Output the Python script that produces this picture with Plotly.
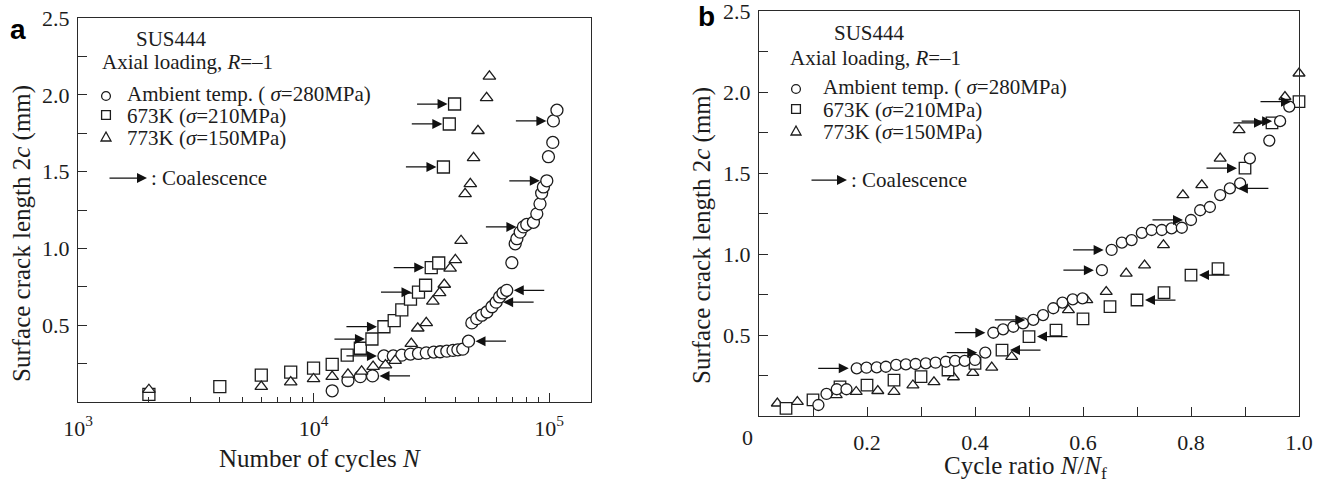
import numpy as np
import plotly.graph_objects as go

W, H = 1329, 489

# ---------------- Panel a: crack length vs. number of cycles ----------------
cycles_amb = [12000, 14000, 15800, 17800, 19900, 21800, 23700, 25800, 27900, 30100,
              32400, 34500, 36800, 39100, 41000, 43000, 45500, 47000, 49300, 51800,
              54500, 57200, 59600, 61600, 63700, 66100, 69500, 71800, 73000, 75400,
              77800, 80400, 85800, 88700, 91500, 93000, 94600, 97800, 99400, 103700,
              104300, 108000]
crack_amb = [0.073, 0.14, 0.165, 0.17, 0.30, 0.30, 0.305, 0.312, 0.316, 0.32,
             0.325, 0.327, 0.331, 0.336, 0.34, 0.344, 0.396, 0.515, 0.543, 0.565,
             0.586, 0.62, 0.65, 0.684, 0.71, 0.727, 0.907, 1.03, 1.063, 1.106,
             1.14, 1.156, 1.17, 1.225, 1.29, 1.36, 1.40, 1.44, 1.597, 1.69,
             1.83, 1.90]

cycles_673 = [2000, 4000, 6000, 8000, 10000, 12000, 13900, 15800, 17700, 19900,
              22000, 23700, 25800, 27900, 29900, 31600, 34000, 35600, 37700, 39700]
crack_673 = [0.05, 0.10, 0.175, 0.195, 0.22, 0.245, 0.305, 0.35, 0.41, 0.49,
             0.53, 0.60, 0.67, 0.715, 0.76, 0.875, 0.905, 1.53, 1.81, 1.94]

cycles_773 = [2000, 6000, 8000, 10000, 12000, 14000, 16000, 17900, 20200, 22200,
              26000, 27700, 30100, 32100, 34300, 35900, 38000, 40000, 42300, 44000,
              46300, 47800, 49900, 54300, 55800]
crack_773 = [0.08, 0.10, 0.13, 0.15, 0.165, 0.18, 0.20, 0.23, 0.24, 0.27,
             0.38, 0.48, 0.515, 0.655, 0.71, 0.765, 0.87, 0.925, 1.05, 1.355,
             1.42, 1.59, 1.766, 1.98, 2.12]

# coalescence events: (point index, arrow direction  +1 = pointing right, -1 = pointing left)
coal_amb_a = [(3, -1), (4, 1), (16, -1), (22, -1), (25, -1), (30, 1), (37, 1), (40, 1)]
coal_673_a = [(8, 1), (9, 1), (13, 1), (15, 1), (17, 1), (18, 1), (19, 1)]

# ---------------- Panel b: crack length vs. cycle ratio ----------------
ratio_amb = [0.11, 0.125, 0.144, 0.162, 0.181, 0.199, 0.218, 0.235, 0.254, 0.272,
             0.29, 0.309, 0.327, 0.346, 0.363, 0.381, 0.40, 0.419, 0.434, 0.452,
             0.471, 0.489, 0.508, 0.526, 0.545, 0.562, 0.581, 0.599, 0.635, 0.653,
             0.672, 0.69, 0.709, 0.727, 0.746, 0.764, 0.783, 0.80, 0.817, 0.835,
             0.854, 0.872, 0.891, 0.909, 0.945, 0.965, 0.982]
crack_amb_b = [0.068, 0.136, 0.165, 0.165, 0.294, 0.298, 0.30, 0.304, 0.315, 0.319,
               0.321, 0.325, 0.329, 0.335, 0.34, 0.34, 0.346, 0.391, 0.514, 0.535,
               0.551, 0.572, 0.593, 0.623, 0.665, 0.70, 0.72, 0.726, 0.90, 1.025,
               1.07, 1.086, 1.13, 1.148, 1.148, 1.158, 1.162, 1.21, 1.27, 1.29,
               1.364, 1.405, 1.436, 1.59, 1.70, 1.82, 1.91]

ratio_673 = [0.05, 0.10, 0.15, 0.20, 0.25, 0.30, 0.35, 0.40, 0.45, 0.50,
             0.55, 0.60, 0.65, 0.70, 0.75, 0.80, 0.85, 0.90, 0.95, 1.00]
crack_673_b = [0.047, 0.099, 0.18, 0.19, 0.222, 0.243, 0.284, 0.325, 0.407, 0.49,
               0.53, 0.60, 0.675, 0.716, 0.762, 0.87, 0.91, 1.53, 1.81, 1.94]

ratio_773 = [0.034, 0.071, 0.143, 0.18, 0.22, 0.25, 0.285, 0.324, 0.36, 0.396,
             0.431, 0.468, 0.573, 0.607, 0.643, 0.68, 0.714, 0.749, 0.785, 0.82,
             0.854, 0.889, 0.974, 1.0]
crack_773_b = [0.078, 0.088, 0.13, 0.15, 0.155, 0.15, 0.19, 0.21, 0.24, 0.267,
               0.30, 0.366, 0.654, 0.716, 0.767, 0.88, 0.93, 1.055, 1.364, 1.426,
               1.59, 1.765, 1.97, 2.115]

coal_amb_b = [(4, 1), (17, 1), (18, 1), (22, 1), (28, 1), (29, 1), (37, 1), (41, -1), (45, 1)]
coal_673_b = [(8, -1), (9, -1), (13, -1), (15, -1), (17, 1), (18, 1), (19, 1)]

# ---------------- styling ----------------
SERIF = "Liberation Serif"
INK = "#1c1c1c"
LINE = "#2a2a2a"


def px(x):
    return x / W


def py(y):
    return 1 - y / H


def marker(symbol, size):
    return dict(symbol=symbol, size=size, color="white",
                line=dict(color=INK, width=1.3))


fig = go.Figure()

series_a = [(cycles_amb, crack_amb, "circle", 12),
            (cycles_673, crack_673, "square", 12),
            (cycles_773, crack_773, "triangle-up", 11)]
for xs, ys, sym, sz in series_a:
    fig.add_trace(go.Scatter(x=xs, y=ys, mode="markers", marker=marker(sym, sz),
                             xaxis="x", yaxis="y", showlegend=False, cliponaxis=False))

series_b = [(ratio_773, crack_773_b, "triangle-up", 10.5),
            (ratio_673, crack_673_b, "square", 11.5),
            (ratio_amb, crack_amb_b, "circle", 11)]
for xs, ys, sym, sz in series_b:
    fig.add_trace(go.Scatter(x=xs, y=ys, mode="markers", marker=marker(sym, sz),
                             xaxis="x2", yaxis="y2", showlegend=False, cliponaxis=False))

annotations = []
ARROW = dict(showarrow=True, text="", arrowhead=2, arrowsize=1.6, arrowwidth=1.25,
             arrowcolor="#111")


def coalescence(events, xs, ys, xref, yref, log=False, length=39, standoff=7):
    for idx, direction in events:
        xv = np.log10(xs[idx]) if log else xs[idx]
        annotations.append(dict(x=xv, y=ys[idx], xref=xref, yref=yref,
                                ax=-direction * length, ay=0, standoff=standoff, **ARROW))


coalescence(coal_amb_a, cycles_amb, crack_amb, "x", "y", log=True)
coalescence(coal_673_a, cycles_673, crack_673, "x", "y", log=True)
coalescence(coal_amb_b, ratio_amb, crack_amb_b, "x2", "y2", length=40, standoff=8)
coalescence(coal_673_b, ratio_673, crack_673_b, "x2", "y2", length=40, standoff=8)


def text(x, y, s, size=21, xanchor="left", angle=0, font=SERIF, color=INK):
    annotations.append(dict(x=px(x), y=py(y), xref="paper", yref="paper", text=s,
                            showarrow=False, xanchor=xanchor, yanchor="middle",
                            textangle=angle, font=dict(family=font, size=size, color=color)))


shapes = []


def legend_block(x_sym, x_text, y_title, x_title, y_sub, x_sub, rows_y, y_coal, x_arrow0, x_arrow1):
    text(x_title, y_title, "SUS444")
    text(x_sub, y_sub, "Axial loading, <i>R</i>=\u20131")
    labels = ["Ambient temp. ( <i>\u03c3</i>=280MPa)",
              "673K (<i>\u03c3</i>=210MPa)",
              "773K (<i>\u03c3</i>=150MPa)"]
    for lab, yy in zip(labels, rows_y):
        text(x_text, yy, lab)
    r = 4.4
    cy = rows_y[0] + 2
    shapes.append(dict(type="circle", xref="paper", yref="paper",
                       x0=px(x_sym - r), x1=px(x_sym + r), y0=py(cy + r), y1=py(cy - r),
                       line=dict(color=INK, width=1.3), fillcolor="white"))
    cy = rows_y[1] - 1
    shapes.append(dict(type="rect", xref="paper", yref="paper",
                       x0=px(x_sym - r), x1=px(x_sym + r), y0=py(cy + r), y1=py(cy - r),
                       line=dict(color=INK, width=1.3), fillcolor="white"))
    cy = rows_y[2] - 1
    tri = "M {},{} L {},{} L {},{} Z".format(px(x_sym - 5), py(cy + 4), px(x_sym + 5), py(cy + 4),
                                             px(x_sym), py(cy - 5))
    shapes.append(dict(type="path", xref="paper", yref="paper", path=tri,
                       line=dict(color=INK, width=1.3), fillcolor="white"))
    annotations.append(dict(x=px(x_arrow1), y=py(y_coal), xref="paper", yref="paper",
                            ax=-(x_arrow1 - x_arrow0), ay=0, standoff=0, **ARROW))
    text(x_arrow1 + 2, y_coal, ": Coalescence")


legend_block(x_sym=106, x_text=125, y_title=39, x_title=134, y_sub=62, x_sub=100,
             rows_y=[94, 116, 138], y_coal=178, x_arrow0=108, x_arrow1=147)
legend_block(x_sym=796, x_text=821, y_title=33, x_title=832, y_sub=58, x_sub=788,
             rows_y=[87, 110, 132], y_coal=180, x_arrow0=810, x_arrow1=847)

# panel letters
text(8, 29, "<b>a</b>", size=28, font="Liberation Sans", color="#000")
text(696, 17, "<b>b</b>", size=28, font="Liberation Sans", color="#000")

# axis titles
text(22, 234, "Surface crack length 2<i>c</i> (mm)", size=25, xanchor="center", angle=-90)
text(702, 236, "Surface crack length 2<i>c</i> (mm)", size=25, xanchor="center", angle=-90)
text(320, 458, "Number of cycles <i>N</i>", size=25, xanchor="center")
text(1025, 467, "Cycle ratio <i>N</i>/<i>N</i><sub>f</sub>", size=25, xanchor="center")

# origin label of the ratio axis sits slightly left of the axis corner
text(748, 437, "0", size=22, xanchor="center")

TICKFONT = dict(family=SERIF, size=22, color=INK)
common = dict(showline=True, linecolor=LINE, linewidth=1.3, mirror=True,
              ticks="inside", ticklen=9, tickwidth=1.2, tickcolor=LINE,
              showgrid=False, zeroline=False, tickfont=TICKFONT,
              ticklabeloverflow="allow")

y_vals = [0.25, 0.5, 0.75, 1.0, 1.25, 1.5, 1.75, 2.0, 2.25, 2.5]
y_text = ["", "0.5", "", "1.0", "", "1.5", "", "2.0", "", "2.5"]

a_major = [1e3, 1e4, 1e5]
a_major_text = ["10<sup>3</sup>", "10<sup>4</sup>", "10<sup>5</sup>"]
a_minor = [m * d for d in (1e3, 1e4) for m in range(2, 10)] + [2e5]

b_vals = [0.0, 0.1, 0.2, 0.3, 0.4, 0.5, 0.6, 0.7, 0.8, 0.9, 1.0]
b_text = ["", "", "0.2", "", "0.4", "", "0.6", "", "0.8", "", "1.0"]

fig.update_layout(
    width=W, height=H,
    margin=dict(l=0, r=0, t=0, b=0, autoexpand=False),
    paper_bgcolor="white", plot_bgcolor="white",
    showlegend=False,
    xaxis=dict(type="log", range=[3, 5.178], domain=[px(78), px(591)], anchor="y",
               tickvals=a_major, ticktext=a_major_text, ticklabelstandoff=6,
               minor=dict(tickvals=a_minor, ticks="inside", ticklen=5, tickwidth=1.1,
                          tickcolor=LINE, showgrid=False),
               **common),
    yaxis=dict(range=[0, 2.5], domain=[py(402), py(18)], anchor="x",
               tickvals=y_vals, ticktext=y_text, ticklabelstandoff=3, **common),
    xaxis2=dict(range=[0, 1.0], domain=[px(759), px(1299)], anchor="y2",
                tickvals=b_vals, ticktext=b_text, ticklabelstandoff=6, **common),
    yaxis2=dict(range=[0, 2.5], domain=[py(416), py(11)], anchor="x2",
                tickvals=y_vals, ticktext=y_text, ticklabelstandoff=3, **common),
    annotations=annotations,
    shapes=shapes,
)

# the page itself should add no offset around the figure
fig.write_html("out.html", post_script="document.body.style.margin='0';")
